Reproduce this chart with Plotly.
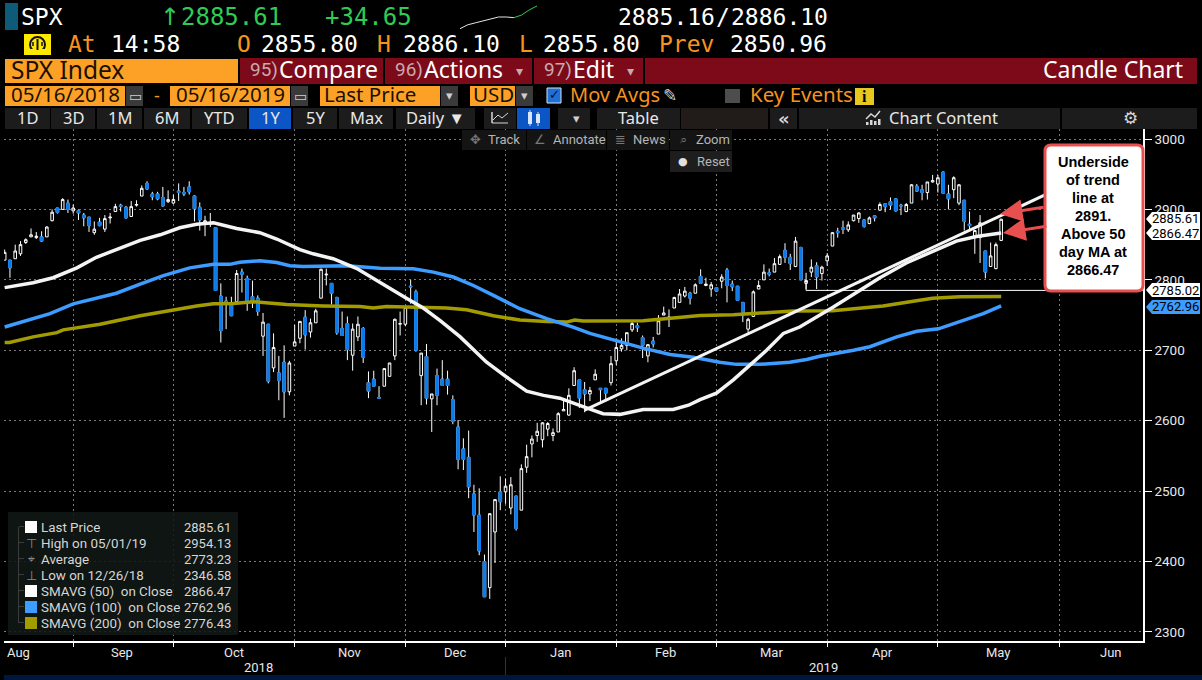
import plotly.graph_objects as go

# sessions counted from the first candle on the chart (mid Aug 2018)
opens = [2828,2828,2830,2837,2853,2861,2860,2861,2861,2884,2902,2900,2909,2898,2898,2892,2889,2867,2882,2872,
         2888,2897,2906,2903,2890,2906,2919,2937,2922,2922,2917,2911,2909,2926,2924,2932,2919,2903,2879,2879,
         2874,2777,2770,2765,2769,2811,2802,2776,2774,2720,2737,2675,2668,2683,2641,2706,2717,2747,2726,2739,
         2774,2807,2795,2775,2731,2738,2693,2719,2731,2654,2659,2633,2649,2663,2692,2737,2737,2791,2783,2664,
         2691,2631,2664,2659,2659,2630,2591,2560,2548,2496,2466,2400,2363,2442,2499,2499,2476,2493,2473,2534,
         2567,2579,2573,2588,2579,2584,2614,2608,2650,2658,2644,2638,2658,2646,2646,2654,2685,2702,2707,2729,
         2735,2718,2692,2713,2723,2750,2746,2760,2768,2777,2781,2781,2805,2792,2787,2789,2798,2814,2794,2791,
         2768,2730,2748,2787,2800,2810,2811,2822,2842,2832,2819,2846,2795,2811,2820,2809,2827,2848,2869,2874,
         2871,2884,2887,2885,2880,2891,2899,2908,2911,2915,2906,2897,2909,2933,2928,2924,2939,2936,2953,2922,
         2928,2909,2913,2879,2860,2860,2841,2819,2816,2856]
highs = [2843,2828,2850,2855,2859,2873,2868,2869,2876,2900,2902,2916,2914,2907,2900,2895,2889,2883,2888,2892,
         2895,2908,2908,2905,2912,2913,2934,2940,2925,2925,2932,2927,2921,2937,2932,2940,2920,2910,2891,2895,
         2874,2795,2776,2776,2814,2816,2806,2799,2778,2753,2737,2724,2692,2707,2685,2736,2741,2757,2745,2759,
         2816,2816,2795,2776,2755,2748,2738,2748,2733,2670,2671,2649,2674,2682,2745,2755,2761,2800,2786,2696,
         2709,2638,2674,2686,2671,2636,2601,2575,2586,2509,2504,2410,2468,2488,2521,2518,2520,2493,2538,2566,
         2579,2597,2598,2598,2589,2612,2629,2646,2676,2658,2655,2648,2673,2646,2646,2692,2717,2717,2725,2742,
         2739,2721,2708,2719,2750,2762,2758,2776,2787,2790,2783,2795,2815,2803,2797,2789,2808,2817,2799,2791,
         2768,2746,2785,2799,2822,2816,2831,2836,2852,2837,2861,2847,2810,2829,2825,2820,2838,2868,2874,2884,
         2883,2892,2896,2886,2890,2892,2910,2909,2917,2916,2908,2909,2936,2936,2935,2939,2949,2949,2954,2935,
         2947,2936,2913,2897,2871,2892,2841,2853,2853,2887]
lows = [2828,2803,2830,2834,2851,2861,2858,2854,2861,2883,2894,2900,2895,2894,2885,2876,2868,2864,2876,2868,
        2880,2897,2897,2887,2890,2904,2919,2928,2913,2913,2904,2909,2908,2912,2919,2921,2883,2870,2862,2875,
        2785,2711,2730,2749,2769,2782,2756,2760,2749,2692,2653,2669,2629,2604,2636,2706,2710,2701,2718,2739,
        2774,2792,2765,2722,2721,2686,2671,2713,2682,2632,2649,2632,2649,2663,2686,2721,2734,2766,2698,2622,
        2623,2584,2622,2650,2637,2595,2531,2530,2490,2442,2409,2350,2347,2398,2473,2482,2467,2444,2473,2526,
        2548,2570,2562,2578,2571,2584,2614,2607,2650,2618,2612,2628,2658,2626,2627,2650,2679,2698,2700,2726,
        2726,2689,2683,2704,2723,2750,2733,2760,2768,2775,2765,2781,2795,2791,2776,2783,2788,2768,2784,2770,
        2740,2725,2748,2787,2800,2805,2811,2822,2824,2814,2818,2800,2787,2804,2787,2799,2820,2848,2860,2865,
        2868,2883,2881,2874,2879,2883,2898,2896,2900,2897,2892,2896,2909,2925,2913,2914,2938,2924,2923,2900,
        2916,2906,2870,2871,2837,2824,2802,2819,2815,2855]
closes = [2839,2817,2841,2850,2857,2864,2862,2855,2875,2896,2896,2914,2900,2902,2895,2888,2877,2872,2877,2887,
          2889,2904,2904,2888,2904,2907,2930,2929,2918,2915,2905,2914,2914,2924,2922,2925,2901,2885,2884,2880,
          2785,2728,2767,2749,2809,2808,2770,2768,2755,2740,2656,2704,2657,2641,2682,2712,2741,2722,2739,2756,
          2815,2808,2781,2725,2721,2701,2730,2737,2690,2642,2649,2632,2674,2682,2744,2738,2761,2790,2700,2696,
          2632,2638,2636,2650,2650,2599,2545,2545,2506,2466,2415,2350,2468,2488,2485,2507,2509,2447,2532,2549,
          2574,2585,2597,2596,2583,2610,2616,2636,2671,2632,2638,2643,2666,2644,2639,2681,2704,2707,2725,2738,
          2732,2707,2708,2709,2742,2753,2747,2775,2780,2784,2774,2793,2795,2794,2793,2784,2804,2792,2790,2771,
          2752,2744,2783,2792,2811,2808,2823,2833,2832,2823,2855,2800,2799,2818,2804,2818,2834,2867,2867,2872,
          2878,2892,2895,2876,2888,2888,2907,2904,2906,2898,2905,2907,2935,2926,2924,2939,2941,2945,2923,2915,
          2945,2935,2883,2877,2870,2881,2811,2834,2850,2886]
sessions = list(range(len(closes)))

sma50_x = [0,5.4,9.2,13.7,17.4,21.2,25.7,29.5,33.2,36.4,39.6,44,48.4,51.6,56,58.5,62.3,66.8,71.2,76.2,79.4,82.6,86.4,
           91.4,95.2,99,102.2,105.3,109.7,113.5,116.7,121.1,126.8,129.7,131.9,135,138.2,141.3,144.5,147.7,150.8,
           157.1,162.2,166,171,176.1,180.5,184.3,189]
sma50_y = [2789,2796,2803,2817,2832,2843,2856,2864,2874,2879,2881,2873,2867,2858,2843,2837,2830,2816,2797,2774,2760,2742,2719,
           2683,2662,2642,2636,2632,2620,2610,2609,2616,2616,2622,2630,2639,2658,2679,2700,2724,2733,
           2761,2785,2803,2824,2841,2855,2861.5,2866.47]
sma100_x = [0,4.2,8.6,13,17.4,21.2,25.7,30.1,35.1,39.6,42.7,44.6,48.4,51.6,54.1,56.6,64.9,71.2,77.5,81.3,85.1,88.9,92.7,
            97.7,102.8,107.8,111,116,121.1,126.2,130.6,135.6,138.8,143.2,148.9,152.1,154.6,161,164.1,169.2,173,177.1,181.2,185.6,189]
sma100_y = [2733,2742,2752,2766,2774,2781,2794,2806,2817,2822,2822,2825,2827,2824.5,2820,2819,2820,2816.5,2815.6,2811,2804,2792,2778,
            2759,2745,2733,2724,2713,2703,2694,2690,2683,2680,2680,2683,2687,2691.5,2700,2705,2719,2727,2730.5,2741,2752,2762.96]
sma200_x = [0,0.9,5.4,9.9,11.1,18.1,25.7,32,36.4,39.6,43.4,47.2,49.7,53.5,60.4,67.4,69.9,72.4,83.8,87.6,92.7,97.7,102.8,
            106.6,108.1,109.7,121.1,126.2,131.9,138.2,143.2,149.6,157,166.6,171.7,176,181.2,189]
sma200_y = [2711,2711,2719,2725,2729,2737,2749,2757.5,2763,2766,2766.5,2769,2767,2765,2763,2762,2760,2762,2760,2757.5,2749,2743,2741,
            2740,2743,2741.5,2742,2746,2749.5,2750.5,2753,2755.7,2756,2763,2769,2774,2776,2776.43]
trend_x = [110, 198]
trend_y = [2615, 2923]
support_x = [152, 152, 216]
support_y = [2799, 2785.02, 2785.02]
spark_white = [2851,2857,2860,2863,2866,2869,2869,2868]
spark_green = [2868,2872,2880,2886]

y_ticks = [2300,2400,2500,2600,2700,2800,2900,3000]
month_starts = [13,32,55,76,95,116,135,156,177,200]
month_names = ["Aug","Sep","Oct","Nov","Dec","Jan","Feb","Mar","Apr","May","Jun"]
legend_names = ["Last Price","High on 05/01/19","Average","Low on 12/26/18",
                "SMAVG (50)  on Close","SMAVG (100)  on Close","SMAVG (200)  on Close"]
legend_values = ["2885.61","2954.13","2773.23","2346.58","2866.47","2762.96","2776.43"]

WHITE = "#ffffff"
BLUE = "#0a7bec"
MA_BLUE = "#3d9cff"
OLIVE = "#a39c00"
ORANGE = "#fca126"
AMBER = "#f7931e"
GREEN = "#2ecc55"
RED = "#7d0a19"
BAR = "#1c1c1c"
MONO = "DejaVu Sans Mono"
SANS = "Noto Sans"
W, H = 1202, 680
LEFT, RIGHT, TOP, BOTTOM = 4, 1143, 129, 641

shapes = []
notes = []


def fx(x):
    return x / W


def fy(y):
    return 1 - y / H


def box(x0, y0, x1, y1, fill, line=None, width=1):
    shapes.append(dict(type="rect", xref="paper", yref="paper", x0=fx(x0), x1=fx(x1), y0=fy(y1), y1=fy(y0),
                       fillcolor=fill, line=dict(color=line or fill, width=width if line else 0)))


def path(points, fill, line=None, width=1):
    d = "M " + " L ".join(f"{fx(x):.5f},{fy(y):.5f}" for x, y in points) + " Z"
    shapes.append(dict(type="path", xref="paper", yref="paper", path=d, fillcolor=fill,
                       line=dict(color=line or fill, width=width if line else 0)))


def polyline(points, color, width=1):
    d = "M " + " L ".join(f"{fx(x):.5f},{fy(y):.5f}" for x, y in points)
    shapes.append(dict(type="path", xref="paper", yref="paper", path=d, line=dict(color=color, width=width)))


def text(x, y, s, color=WHITE, size=14, font=SANS, anchor="left", bold=False):
    if bold:
        s = f"<b>{s}</b>"
    notes.append(dict(xref="paper", yref="paper", x=fx(x), y=fy(y), text=s, showarrow=False, xanchor=anchor,
                      yanchor="middle", font=dict(color=color, size=size, family=font), borderpad=0))


fig = go.Figure()

# all candles in white first, then the down bodies over them so their wicks stay white
fig.add_trace(go.Candlestick(
    x=sessions, open=opens, high=highs, low=lows, close=closes, whiskerwidth=0,
    increasing=dict(line=dict(color=WHITE, width=1), fillcolor="#000000"),
    decreasing=dict(line=dict(color=WHITE, width=1), fillcolor="#000000"),
    hoverinfo="skip", showlegend=False,
))
down = [i for i in sessions if closes[i] < opens[i]]
fig.add_trace(go.Candlestick(
    x=down,
    open=[opens[i] for i in down], close=[closes[i] for i in down],
    high=[opens[i] for i in down], low=[closes[i] for i in down], whiskerwidth=0,
    increasing=dict(line=dict(color=BLUE, width=1), fillcolor=BLUE),
    decreasing=dict(line=dict(color=BLUE, width=1), fillcolor=BLUE),
    hoverinfo="skip", showlegend=False,
))

for xs, ys, color, w in [(sma200_x, sma200_y, OLIVE, 3.5), (sma100_x, sma100_y, MA_BLUE, 3.5),
                         (sma50_x, sma50_y, "#f4f4f4", 3.5), (trend_x, trend_y, "#f4f4f4", 3),
                         (support_x, support_y, WHITE, 1)]:
    fig.add_trace(go.Scatter(x=xs, y=ys, mode="lines", line=dict(color=color, width=w),
                             hoverinfo="skip", showlegend=False))

# arrow-shaped ticks on the price axis
fig.add_trace(go.Scatter(x=[216.6] * len(y_ticks), y=y_ticks, mode="markers", cliponaxis=False,
                         marker=dict(symbol="triangle-right", size=7, color=WHITE),
                         hoverinfo="skip", showlegend=False))

# sparkline in the quote header
fig.add_trace(go.Scatter(x=list(range(len(spark_white))), y=spark_white, xaxis="x2", yaxis="y2", mode="lines",
                         line=dict(color="#e6e6e6", width=1), hoverinfo="skip", showlegend=False))
fig.add_trace(go.Scatter(x=list(range(7, 7 + len(spark_green))), y=spark_green, xaxis="x2", yaxis="y2", mode="lines",
                         line=dict(color=GREEN, width=1), hoverinfo="skip", showlegend=False))

# quote header
box(5, 3, 18, 30, "#0d5b78")
text(20, 17, "SPX", size=23, font=MONO)
text(159, 17, "↑", GREEN, 24, "DejaVu Sans")
text(180, 17, "2885.61", GREEN, 24, MONO)
text(324, 17, "+34.65", GREEN, 24, MONO)
text(617, 17, "2885.16", size=23, font=MONO)
text(715, 17, "/", size=23, font=MONO)
text(730, 17, "2886.10", size=23, font=MONO)
box(24, 34, 51, 55, "#fde800")
shapes.append(dict(type="circle", xref="paper", yref="paper", x0=fx(30), x1=fx(45), y0=fy(52), y1=fy(37),
                   fillcolor="#fde800", line=dict(color="#111111", width=2)))
box(29, 49, 46, 54, "#fde800")
box(36.5, 39, 38.5, 50, "#111111")
polyline([(33, 42), (33, 46)], "#111111", 1.5)
polyline([(42, 42), (42, 46)], "#111111", 1.5)
for x, s, c in [(67, "At", AMBER), (110, "14:58", WHITE), (236, "O", AMBER), (260, "2855.80", WHITE),
                (376, "H", AMBER), (402, "2886.10", WHITE), (518, "L", AMBER), (542, "2855.80", WHITE),
                (658, "Prev", AMBER), (729, "2850.96", WHITE)]:
    text(x, 44, s, c, 23, MONO)

# function bar
box(5, 59, 238, 83, ORANGE)
text(10, 69.5, "SPX Index", "#1a1000", 24.5)
for x0, x1, num, label in [(240, 383, "95)", "Compare"), (385, 532, "96)", "Actions"), (534, 643, "97)", "Edit")]:
    box(x0, 58, x1, 84, RED)
    text(x0 + 9, 70, num, "#c9a9ae", 19, "Roboto")
    text(x0 + 38, 69.5, label, WHITE, 23)
box(645, 58, 1197, 84, RED)
text(1184, 69.5, "Candle Chart", WHITE, 23, anchor="right")
for x in (511, 622):
    text(x + 8, 71, "▾", "#c9a9ae", 14, "DejaVu Sans", "center")

# date row
for x0, x1, s in [(5, 125, "05/16/2018"), (170, 290, "05/16/2019")]:
    box(x0, 86, x1, 106, ORANGE)
    text(x0 + 5, 94.5, s, "#1a1000", 20.5)
    box(x1 + 1, 86, x1 + 18, 106, "#3a3a3a")
    text(x1 + 10, 96, "▭", "#cfcfcf", 14, "DejaVu Sans", "center")
text(157, 95, "-", AMBER, 18, anchor="center")
box(320, 86, 440, 106, ORANGE)
text(323, 94.5, "Last Price", "#1a1000", 20.5)
box(441, 86, 458, 106, "#3a3a3a")
text(449.5, 96, "▾", "#cfcfcf", 13, "DejaVu Sans", "center")
box(470, 86, 515, 106, ORANGE)
text(472, 94.5, "USD", "#1a1000", 20.5)
box(516, 86, 533, 106, "#3a3a3a")
text(524.5, 96, "▾", "#cfcfcf", 13, "DejaVu Sans", "center")
box(547, 88, 561, 103, "#1f6fd6", "#d8e4f5")
text(554, 95, "✓", "#05142b", 13, "DejaVu Sans", "center")
text(569, 94.5, "Mov Avgs", AMBER, 20)
text(670, 95, "✎", "#d0d0d0", 17, "DejaVu Sans", "center")
box(725, 89, 740, 103, "#4d4d4d")
text(749, 94.5, "Key Events", AMBER, 20.5)
box(855, 88, 874, 105, "#e6c81e")
text(864.5, 96.5, "i", "#000000", 16, "Liberation Serif", "center", bold=True)

# range row
for x0, x1, s, fill in [(5, 50, "1D", BAR), (51, 95, "3D", BAR), (97, 142, "1M", BAR), (144, 190, "6M", BAR),
                        (192, 247, "YTD", BAR), (249, 291, "1Y", "#0b55c4"), (293, 337, "5Y", BAR),
                        (339, 393, "Max", BAR), (396, 475, "Daily ▼", BAR), (597, 680, "Table", BAR)]:
    box(x0, 108, x1, 129, fill)
    text((x0 + x1) / 2, 117.5, s, "#e8e8e8", 16.5, anchor="center")
box(484, 108, 516, 129, BAR)
polyline([(492, 123), (492, 112), (492, 123), (508, 123)], "#d8d8d8", 1)
polyline([(493, 120), (498, 115), (502, 118), (508, 113)], "#d8d8d8", 1)
box(517, 108, 550, 129, "#0b55c4")
box(528, 112, 532, 124, "#d9e6fb")
polyline([(530, 110), (530, 126)], "#d9e6fb", 1)
box(536, 114, 540, 123, "#d9e6fb")
polyline([(538, 112), (538, 126)], "#d9e6fb", 1)
box(558, 108, 590, 129, BAR)
text(576, 118, "▾", "#cfcfcf", 13, "DejaVu Sans", "center")
box(681, 108, 768, 129, "#211c1a")
box(770, 108, 797, 129, BAR)
text(783.5, 118, "«", "#d8d8d8", 18, "DejaVu Sans", "center", bold=True)
box(799, 108, 1060, 129, BAR)
text(888, 117.5, "Chart Content", "#e8e8e8", 16.5)
polyline([(866, 119), (871, 114), (875, 117), (880, 111)], "#d8d8d8", 1.5)
for bx, top in [(866, 122), (870, 120), (874, 121), (878, 119)]:
    box(bx, top, bx + 2.5, 125, "#d8d8d8")
box(1062, 108, 1197, 129, BAR)
text(1130, 118, "⚙", "#d8d8d8", 17, "DejaVu Sans", "center")

# chart overlay buttons
for x0, x1, icon, s in [(462, 526, "✥", "Track"), (527, 606, "∠", "Annotate"), (607, 669, "≣", "News"), (670, 732, "⌕", "Zoom")]:
    box(x0, 130, x1, 150, "#141414")
    text(x0 + 13, 140, icon, "#777777", 13, "DejaVu Sans", "center")
    text(x0 + 25, 140, s, "#b5b5b5", 13, "Roboto")
box(670, 151, 732, 172, "#1e1e1e")
text(683, 161, "●", "#e0e0e0", 11, "DejaVu Sans", "center")
text(696, 161, "Reset", "#b5b5b5", 13, "Roboto")

# legend panel
box(8, 512, 238, 635, "rgba(16,24,20,0.88)")
for i, (name, value) in enumerate(zip(legend_names, legend_values)):
    y = 527 + i * 16
    text(40, y, name, "#d6d6d6", 13.4, "Roboto")
    text(232, y, value, "#d6d6d6", 13, "Roboto", "right")
    if i < 6:
        box(18.5, y, 19, y + 16, "#666666")
    box(19, y - 0.5, 24, y, "#666666")
for i, color in [(0, WHITE), (4, WHITE), (5, MA_BLUE), (6, OLIVE)]:
    y = 527 + i * 16
    box(25, y - 6, 37, y + 6, color)
text(31, 543, "⊤", "#888888", 13, "DejaVu Sans", "center")
text(31, 559, "⌖", "#888888", 12, "DejaVu Sans", "center")
text(31, 575, "⊥", "#888888", 13, "DejaVu Sans", "center")

# callout
r = 6
callout = (f"M {fx(1045 + r):.5f},{fy(145):.5f} L {fx(1143 - r):.5f},{fy(145):.5f} "
           f"Q {fx(1143):.5f},{fy(145):.5f} {fx(1143):.5f},{fy(145 + r):.5f} "
           f"L {fx(1143):.5f},{fy(291 - r):.5f} Q {fx(1143):.5f},{fy(291):.5f} {fx(1143 - r):.5f},{fy(291):.5f} "
           f"L {fx(1045 + r):.5f},{fy(291):.5f} Q {fx(1045):.5f},{fy(291):.5f} {fx(1045):.5f},{fy(291 - r):.5f} "
           f"L {fx(1045):.5f},{fy(145 + r):.5f} Q {fx(1045):.5f},{fy(145):.5f} {fx(1045 + r):.5f},{fy(145):.5f} Z")
shapes.append(dict(type="path", xref="paper", yref="paper", path=callout, fillcolor=WHITE,
                   line=dict(color="#e8504f", width=3)))
for i, s in enumerate(["Underside", "of trend", "line at", "2891.", "Above 50", "day MA at", "2866.47"]):
    text(1093, 162 + i * 18, s, "#000000", 14.5, "Liberation Sans", "center", bold=True)
for x0, y0, x1, y1 in [(1045, 207, 1000, 214), (1048, 226, 1003, 233)]:
    notes.append(dict(xref="paper", yref="paper", x=fx(x1), y=fy(y1), ax=x0 - x1, ay=y0 - y1,
                      text="", showarrow=True, arrowhead=2, arrowsize=1.5, arrowwidth=3, arrowcolor="#e8504f"))

# last-value tags on the price axis
for y, s, fill, color in [(233, "2866.47", WHITE, "#000000"), (219, "2885.61", WHITE, "#000000"),
                          (290, "2785.02", WHITE, "#000000"), (307, "2762.96", MA_BLUE, "#000000")]:
    path([(1146, y), (1152, y - 7), (1200, y - 7), (1200, y + 7), (1152, y + 7)], fill)
    text(1175.5, y, s, color, 13, "Roboto", "center")

# time axis labels
for x, s in zip([18, 122, 234, 350, 455, 560, 666, 771, 882, 998, 1111], month_names):
    text(x, 652, s, "#e8e8e8", 13, "Roboto", "center")
text(258, 667, "2018", "#e8e8e8", 13, "Roboto", "center")
text(824, 667, "2019", "#e8e8e8", 13, "Roboto", "center")
box(505, 657, 506, 675, "#333333")
box(4, 675, 1202, 680, "#00163f")

fig.update_layout(
    width=W, height=H, autosize=False,
    paper_bgcolor="#000000", plot_bgcolor="#000000",
    margin=dict(l=0, r=0, t=0, b=0, pad=0),
    xaxis=dict(domain=[fx(LEFT), fx(RIGHT)], range=[-0.127, 215.9], rangeslider=dict(visible=False), showgrid=True, griddash="2px,3px",
               gridcolor="#7a7a7a", gridwidth=1, tickmode="array", tickvals=month_starts, ticktext=[""] * len(month_starts),
               ticks="outside", ticklen=4, tickcolor=WHITE, showline=True, linecolor=WHITE, linewidth=1.5, zeroline=False),
    yaxis=dict(domain=[fy(BOTTOM), fy(TOP)], range=[2287.2, 3014.2], side="right", showgrid=True, griddash="2px,3px", gridcolor="#7a7a7a", gridwidth=1,
               tickmode="array", tickvals=y_ticks, ticks="outside", ticklen=7, tickcolor=WHITE, showline=True,
               linecolor=WHITE, linewidth=1.5, zeroline=False, tickfont=dict(color="#e8e8e8", size=13.5, family="Roboto")),
    xaxis2=dict(domain=[fx(460), fx(537)], range=[0, 10], anchor="y2", visible=False),
    yaxis2=dict(domain=[fy(30), fy(4)], range=[2849, 2889], anchor="x2", visible=False),
    shapes=shapes, annotations=notes, showlegend=False,
)
# the page's default body margin would push the figure 8px in
fig.write_html("out.html", config={"displayModeBar": False},
               post_script="document.body.style.margin='0';document.body.style.background='#000';")
